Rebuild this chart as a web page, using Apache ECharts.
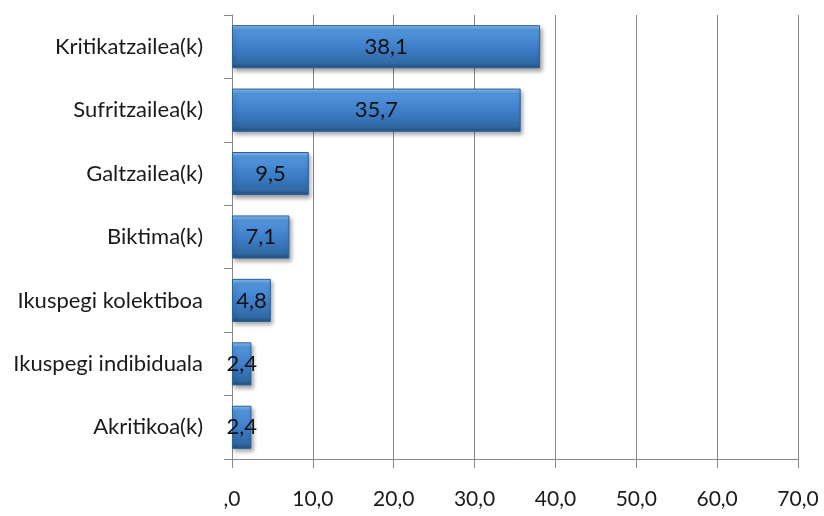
<!DOCTYPE html>
<html>
<head>
<meta charset="utf-8">
<script src="https://cdn.jsdelivr.net/npm/echarts@6/dist/echarts.min.js"></script>
<style>
html,body{margin:0;padding:0;background:#fff;}
#chart{width:824px;height:516px;}
</style>
</head>
<body>
<div id="chart"></div>
<script>
var categories = ['Akritikoa(k)', 'Ikuspegi indibiduala', 'Ikuspegi kolektiboa', 'Biktima(k)', 'Galtzailea(k)', 'Sufritzailea(k)', 'Kritikatzailea(k)'];
var values = [2.4, 2.4, 4.8, 7.1, 9.5, 35.7, 38.1];
var xTickLabels = [',0', '10,0', '20,0', '30,0', '40,0', '50,0', '60,0', '70,0'];

var chart = echarts.init(document.getElementById('chart'));
var font = 'Lato, "Open Sans", sans-serif';
chart.setOption({
  animation: false,
  grid: {left: 232, right: 26, top: 15, bottom: 57},
  xAxis: {
    type: 'value', min: 0, max: 70, interval: 10,
    axisLine: {show: true, lineStyle: {color: '#888', width: 1}},
    axisTick: {show: true, length: 9, lineStyle: {color: '#888'}},
    splitLine: {show: true, lineStyle: {color: '#888', width: 1}},
    axisLabel: {
      margin: 30, color: '#1a1a1a', fontSize: 21, fontFamily: font,
      formatter: function (v) { return xTickLabels[Math.round(v / 10)]; }
    }
  },
  yAxis: {
    type: 'category', data: categories,
    axisLine: {show: true, lineStyle: {color: '#888'}},
    axisTick: {show: true, length: 8, lineStyle: {color: '#888'}},
    axisLabel: {margin: 29, color: '#1a1a1a', fontSize: 22, fontFamily: font}
  },
  series: [{
    type: 'bar', data: values, barCategoryGap: '32%',
    itemStyle: {
      color: new echarts.graphic.LinearGradient(0, 0, 0, 1, [
        {offset: 0, color: '#8cc2f4'},
        {offset: 0.12, color: '#5296dd'},
        {offset: 0.55, color: '#3d7cc7'},
        {offset: 0.88, color: '#3069a3'},
        {offset: 1, color: '#224e80'}
      ]),
      borderColor: '#2d5f98', borderWidth: 1,
      shadowColor: 'rgba(0,0,0,0.35)', shadowBlur: 4, shadowOffsetX: 2, shadowOffsetY: 3
    },
    label: {
      show: true, position: 'inside', color: '#111', fontSize: 22, fontFamily: font,
      formatter: function (p) { return p.value.toFixed(1).replace('.', ','); }
    }
  }]
});
</script>
</body>
</html>
